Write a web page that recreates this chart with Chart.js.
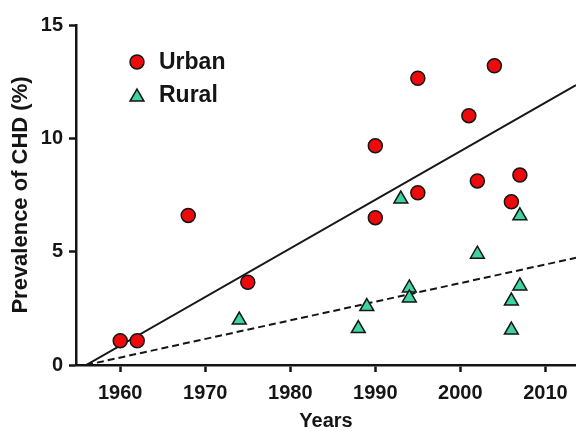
<!DOCTYPE html>
<html lang="en">
<head>
  <meta charset="UTF-8" />
  <title>Prevalence of CHD</title>
  <script src="https://cdn.jsdelivr.net/npm/chart.js"></script>
  <style>
    html, body { margin: 0; padding: 0; background: #fff; }
    #wrap { width: 576px; height: 431px; position: relative; }
  </style>
</head>
<body>
  <div id="wrap">
    <canvas id="chdChart"></canvas>
  </div>

  <script>
    // data
    const urbanYears  = [1960, 1962, 1968, 1975, 1990, 1990, 1995, 1995, 2001, 2002, 2004, 2006, 2007];
    const urbanValues = [1.07, 1.07, 6.6, 3.65, 9.67, 6.5, 12.65, 7.6, 11.0, 8.12, 13.2, 7.2, 8.38];

    const ruralYears  = [1974, 1988, 1989, 1993, 1994, 1994, 2002, 2006, 2006, 2007, 2007];
    const ruralValues = [1.98, 1.61, 2.58, 7.32, 3.40, 2.96, 4.89, 2.82, 1.54, 3.49, 6.58];

    // regression lines (ends)
    const fitYears        = [1956, 2013.6];
    const urbanFitValues  = [0, 12.35];
    const ruralFitValues  = [0, 4.73];

    const xTicks = [1960, 1970, 1980, 1990, 2000, 2010];
    const yTicks = [0, 5, 10, 15];

    const toPoints = (xs, ys) => xs.map((x, i) => ({ x: x, y: ys[i] }));

    const FONT = "'Liberation Sans', Arial, Helvetica, sans-serif";
    const RED = '#ee0a0a';
    const TEAL = '#3ed3a2';
    const INK = '#151515';

    // legend drawn inside the plot, top left
    const insideLegend = {
      id: 'insideLegend',
      afterDraw(chart) {
        const ctx = chart.ctx;
        ctx.save();
        ctx.lineWidth = 1.5;
        ctx.strokeStyle = INK;

        ctx.beginPath();
        ctx.arc(137, 62, 7, 0, Math.PI * 2);
        ctx.fillStyle = RED;
        ctx.fill();
        ctx.stroke();

        const r = 8, cx = 137, cy = 97;
        ctx.beginPath();
        ctx.moveTo(cx, cy - r);
        ctx.lineTo(cx + r * Math.sin(Math.PI * 2 / 3), cy + r / 2);
        ctx.lineTo(cx - r * Math.sin(Math.PI * 2 / 3), cy + r / 2);
        ctx.closePath();
        ctx.fillStyle = TEAL;
        ctx.fill();
        ctx.stroke();

        ctx.fillStyle = INK;
        ctx.font = 'bold 23px ' + FONT;
        ctx.textBaseline = 'middle';
        ctx.textAlign = 'left';
        ctx.fillText('Urban', 159, 63);
        ctx.fillText('Rural', 159, 96);
        ctx.restore();
      }
    };

    const ctx = document.getElementById('chdChart').getContext('2d');
    const chdChart = new Chart(ctx, {
      type: 'scatter',
      data: {
        datasets: [
          {
            label: 'Urban',
            data: toPoints(urbanYears, urbanValues),
            pointStyle: 'circle',
            pointRadius: 7,
            pointBackgroundColor: RED,
            pointBorderColor: INK,
            pointBorderWidth: 1.5
          },
          {
            label: 'Rural',
            data: toPoints(ruralYears, ruralValues),
            pointStyle: 'triangle',
            pointRadius: 8,
            pointBackgroundColor: TEAL,
            pointBorderColor: INK,
            pointBorderWidth: 1.5
          },
          {
            label: 'Urban fit',
            data: toPoints(fitYears, urbanFitValues),
            showLine: true,
            pointRadius: 0,
            borderColor: INK,
            borderWidth: 2
          },
          {
            label: 'Rural fit',
            data: toPoints(fitYears, ruralFitValues),
            showLine: true,
            pointRadius: 0,
            borderColor: INK,
            borderWidth: 2,
            borderDash: [7, 4]
          }
        ]
      },
      options: {
        responsive: true,
        maintainAspectRatio: false,
        animation: false,
        layout: {
          autoPadding: false,
          padding: { top: 25, right: 0, bottom: 0, left: 0 }
        },
        plugins: {
          legend: { display: false },
          tooltip: { enabled: false }
        },
        scales: {
          x: {
            type: 'linear',
            min: 1954.8,
            max: 2013.6,
            afterBuildTicks(scale) {
              scale.ticks = xTicks.map(v => ({ value: v }));
            },
            afterFit(scale) {
              scale.height = 66;
              scale.paddingLeft = 0;
              scale.paddingRight = 0;
            },
            border: { color: INK, width: 2.5 },
            grid: {
              drawOnChartArea: false,
              drawTicks: true,
              tickLength: 7,
              tickWidth: 2.5,
              tickColor: INK
            },
            ticks: {
              color: INK,
              padding: 9,
              font: { family: FONT, size: 20, weight: 'bold' },
              callback: v => String(v)
            },
            title: {
              display: true,
              text: 'Years',
              color: INK,
              padding: { top: 0, bottom: 0 },
              font: { family: FONT, size: 20, weight: 'bold', lineHeight: 1.0 }
            }
          },
          y: {
            min: 0,
            max: 15,
            afterBuildTicks(scale) {
              scale.ticks = yTicks.map(v => ({ value: v }));
            },
            afterFit(scale) { scale.width = 76; },
            border: { color: INK, width: 2.5 },
            grid: {
              drawOnChartArea: false,
              drawTicks: true,
              tickLength: 7,
              tickWidth: 2.5,
              tickColor: INK
            },
            ticks: {
              color: INK,
              padding: 6,
              font: { family: FONT, size: 20, weight: 'bold' },
              callback: v => String(v)
            },
            title: {
              display: true,
              text: 'Prevalence of CHD (%)',
              color: INK,
              padding: { top: 8, bottom: 0 },
              font: { family: FONT, size: 22, weight: 'bold' }
            }
          }
        }
      },
      plugins: [insideLegend]
    });
  </script>
</body>
</html>
